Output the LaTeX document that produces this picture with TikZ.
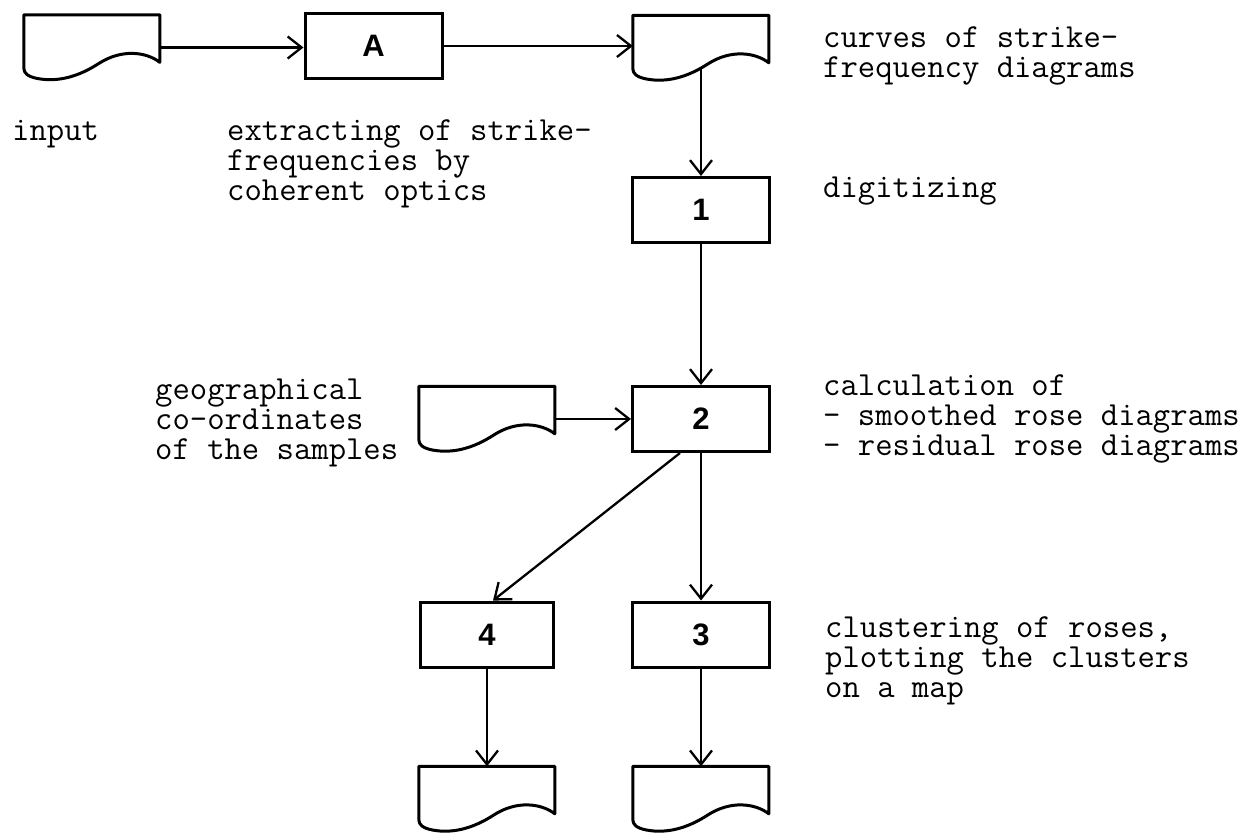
\documentclass[tikz,border=0pt]{standalone}
\usepackage{fontspec}
\newfontfamily\numfont{Liberation Sans}
\usetikzlibrary{arrows.meta,calc}
\tikzset{
  box/.style={draw, line width=3pt, minimum width=137pt, minimum height=65pt, inner sep=0pt,
    font=\numfont\bfseries\fontsize{31}{31}\selectfont},
  docnode/.style={minimum width=136pt, minimum height=65pt, inner sep=0pt},
  docline/.style={line width=3pt, line join=round},
  conn/.style={line width=2.3pt, -{Straight Barb[length=14pt,width=22pt,line width=2.3pt]}},
  txt/.style={anchor=north west, inner sep=0pt, align=left,
    font=\ttfamily\fontsize{33.7}{30}\selectfont}
}
\newcommand\docoutline[1]{%
  \begin{scope}[shift={(#1.north west)}]
    \draw[docline] (0,0) -- (136,0) -- (136,47.5)
      .. controls (122.4,37) and (97.9,33.8) .. (74.8,48.8)
      .. controls (54.4,62) and (34,67.5) .. (13.6,63.7)
      .. controls (4.1,61.8) and (0,58.5) .. (0,53.3) -- cycle;
  \end{scope}}
\newcommand\fl{\rule{0pt}{24pt}}
\begin{document}
\begin{tikzpicture}[x=1pt,y=-1pt]
\useasboundingbox (0,0) rectangle (1255,833);
% documents
\node[docnode] (doc1) at (92,47.5) {};
\node[docnode] (doc2) at (701,48) {};
\node[docnode] (doc3) at (487,419) {};
\node[docnode] (doc4) at (487,799) {};
\node[docnode] (doc5) at (701,799) {};
\docoutline{doc1}
\docoutline{doc2}
\docoutline{doc3}
\docoutline{doc4}
\docoutline{doc5}
% boxes
\node[box] (A) at (373.5,46) {A};
\node[box] (b1) at (701,210) {1};
\node[box] (b2) at (701,419) {2};
\node[box, minimum width=133pt] (b4) at (487,634.5) {4};
\node[box] (b3) at (701,634.5) {3};
% texts
\node[txt] (tin) at (12,116) {\fl input};
\node[txt] (tex) at (227,116) {\fl extracting of strike-\\frequencies by\\coherent optics};
\node[txt] (tcu) at (823,23) {\fl curves of strike-\\frequency diagrams};
\node[txt] (tdi) at (823,173) {\fl digitizing};
\node[txt] (tge) at (155,375) {\fl geographical\\co-ordinates\\of the samples};
\node[txt] (tca) at (823,371) {\fl calculation of\\- smoothed rose diagrams\\- residual rose diagrams};
\node[txt] (tcl) at (825,613) {\fl clustering of roses,\\plotting the clusters\\on a map};
% connectors
\coordinate (d2out) at (701,69);
\draw[conn] (doc1.east) -- (doc1.east -| A.west);
\draw[conn] (A.east) -- (A.east -| doc2.west);
\draw[conn] (d2out) -- (b1.north);
\draw[conn] (b1.south) -- (b2.north);
\draw[conn] (doc3.east) -- (b2.west);
\draw[conn] ([xshift=-21pt]b2.south) -- ([xshift=6pt]b4.north);
\draw[conn] (b2.south) -- (b3.north);
\draw[conn] (b4.south) -- (doc4.north);
\draw[conn] (b3.south) -- (doc5.north);
\end{tikzpicture}
\end{document}
